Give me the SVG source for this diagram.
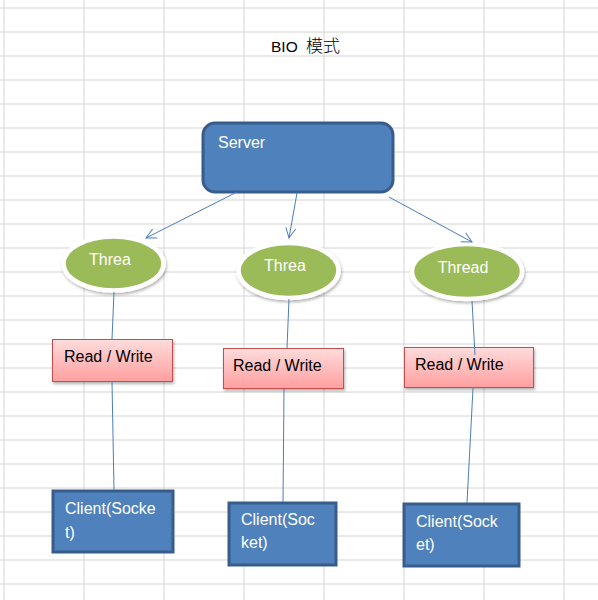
<svg xmlns="http://www.w3.org/2000/svg" width="598" height="600" viewBox="0 0 598 600">
<defs>
<style>
.grid line{stroke:#d4d4d4;stroke-width:1}
.blue{fill:#4f81bd;stroke:#385d8a;stroke-width:3}
.thread{fill:#9bbb59;stroke:#ffffff;stroke-width:4.5;filter:url(#sh)}
.rw{fill:url(#pink);stroke:#c0504d;stroke-width:1;filter:url(#sh)}
.wt{font-family:"Liberation Sans",Arial,sans-serif;font-size:16px;fill:#ffffff}
.bt{font-family:"Liberation Sans",Arial,sans-serif;font-size:16px;fill:#000000}
.conn line,.conn path{stroke:#4a7ebb;stroke-width:1;fill:none}
</style>
<linearGradient id="pink" x1="0" y1="0" x2="0" y2="1">
<stop offset="0" stop-color="#ffdcdc"/>
<stop offset="1" stop-color="#ff9f9f"/>
</linearGradient>
<filter id="sh" x="-20%" y="-20%" width="140%" height="150%">
<feDropShadow dx="1" dy="2" stdDeviation="1.5" flood-color="#000" flood-opacity="0.3"/>
</filter>
<marker id="arr" viewBox="0 0 12 12" refX="11" refY="6" markerWidth="12" markerHeight="12" markerUnits="userSpaceOnUse" orient="auto">
<path d="M1,1 L11,6 L1,11" fill="none" stroke="#4a7ebb" stroke-width="1"/>
</marker>
</defs>
<rect width="598" height="600" fill="#ffffff"/>
<g class="grid">
<line x1="4" y1="0" x2="4" y2="600"/>
<line x1="84" y1="0" x2="84" y2="600"/>
<line x1="164" y1="0" x2="164" y2="600"/>
<line x1="244" y1="0" x2="244" y2="600"/>
<line x1="324" y1="0" x2="324" y2="600"/>
<line x1="404" y1="0" x2="404" y2="600"/>
<line x1="484" y1="0" x2="484" y2="600"/>
<line x1="564" y1="0" x2="564" y2="600"/>
<line x1="0" y1="8" x2="598" y2="8"/>
<line x1="0" y1="32" x2="598" y2="32"/>
<line x1="0" y1="56" x2="598" y2="56"/>
<line x1="0" y1="80" x2="598" y2="80"/>
<line x1="0" y1="104" x2="598" y2="104"/>
<line x1="0" y1="128" x2="598" y2="128"/>
<line x1="0" y1="152" x2="598" y2="152"/>
<line x1="0" y1="176" x2="598" y2="176"/>
<line x1="0" y1="200" x2="598" y2="200"/>
<line x1="0" y1="224" x2="598" y2="224"/>
<line x1="0" y1="248" x2="598" y2="248"/>
<line x1="0" y1="272" x2="598" y2="272"/>
<line x1="0" y1="296" x2="598" y2="296"/>
<line x1="0" y1="320" x2="598" y2="320"/>
<line x1="0" y1="344" x2="598" y2="344"/>
<line x1="0" y1="368" x2="598" y2="368"/>
<line x1="0" y1="392" x2="598" y2="392"/>
<line x1="0" y1="416" x2="598" y2="416"/>
<line x1="0" y1="440" x2="598" y2="440"/>
<line x1="0" y1="464" x2="598" y2="464"/>
<line x1="0" y1="488" x2="598" y2="488"/>
<line x1="0" y1="512" x2="598" y2="512"/>
<line x1="0" y1="536" x2="598" y2="536"/>
<line x1="0" y1="560" x2="598" y2="560"/>
<line x1="0" y1="584" x2="598" y2="584"/>
</g>
<text x="271" y="52" font-family="'Liberation Sans','Noto Sans CJK SC',sans-serif" font-size="15.5" fill="#000">BIO<tspan x="306" font-family="'Noto Sans CJK SC',sans-serif" font-size="17" font-weight="300">模式</tspan></text>
<g id="server">
<rect class="blue" x="203" y="123" width="190" height="69" rx="12"/>
<text class="wt" x="218" y="148">Server</text>
</g>
<g id="thread1">
<ellipse class="thread" cx="113.5" cy="263.5" rx="50" ry="27"/>
<text class="wt" x="110" y="265" text-anchor="middle">Threa</text>
</g>
<g id="thread2">
<ellipse class="thread" cx="288.5" cy="270.5" rx="50" ry="27.5"/>
<text class="wt" x="285" y="271" text-anchor="middle">Threa</text>
</g>
<g id="thread3">
<ellipse class="thread" cx="467" cy="271.5" rx="55" ry="27.5"/>
<text class="wt" x="463" y="273" text-anchor="middle">Thread</text>
</g>
<g id="rw1">
<rect class="rw" x="52.5" y="339.5" width="120" height="42"/>
<text class="bt" x="64" y="362">Read / Write</text>
</g>
<g id="rw2">
<rect class="rw" x="223.5" y="348.5" width="120" height="40"/>
<text class="bt" x="233" y="371">Read / Write</text>
</g>
<g id="rw3">
<rect class="rw" x="404.5" y="347.5" width="129" height="40"/>
<text class="bt" x="415" y="370">Read / Write</text>
</g>
<g id="client1">
<rect class="blue" x="53" y="491" width="120" height="61"/>
<text class="wt" x="65" y="514">Client(Socke</text>
<text class="wt" x="65" y="538">t)</text>
</g>
<g id="client2">
<rect class="blue" x="229" y="503" width="107" height="62"/>
<text class="wt" x="241" y="525">Client(Soc</text>
<text class="wt" x="241" y="548">ket)</text>
</g>
<g id="client3">
<rect class="blue" x="404" y="504" width="115" height="62"/>
<text class="wt" x="416" y="527">Client(Sock</text>
<text class="wt" x="416" y="550">et)</text>
</g>
<g class="conn">
<line x1="237" y1="192" x2="146" y2="238" marker-end="url(#arr)"/>
<line x1="297" y1="193" x2="289" y2="238" marker-end="url(#arr)"/>
<line x1="389" y1="197" x2="472" y2="242" marker-end="url(#arr)"/>
<line x1="114" y1="292" x2="112" y2="339"/>
<line x1="112" y1="382" x2="114" y2="490"/>
<line x1="289" y1="299" x2="287" y2="348"/>
<line x1="284" y1="389" x2="283" y2="502"/>
<line x1="472" y1="301" x2="475" y2="355"/>
<line x1="473" y1="388" x2="467" y2="503"/>
</g>
</svg>
